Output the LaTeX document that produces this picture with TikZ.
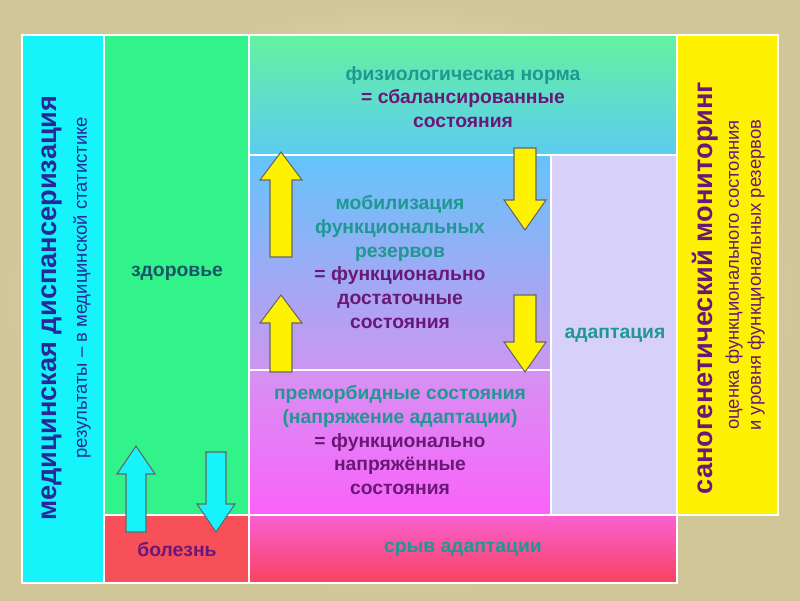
\documentclass[tikz,border=0pt]{standalone}
\usepackage{fontspec}
\setmainfont{Liberation Sans}
\usetikzlibrary{positioning}
\definecolor{tealtxt}{HTML}{1E9890}
\definecolor{plumtxt}{HTML}{6A1878}
\definecolor{navytxt}{HTML}{28289A}
\definecolor{darkteal}{HTML}{1A5468}
\definecolor{aqua}{RGB}{20,244,250}
\newcommand{\fatarrow}[6]{% x, tail y, tip y, head length, half shaft, colour
  \pgfmathsetmacro{\hd}{#3<#2 ? #3+#4 : #3-#4}
  \filldraw[draw=black!60,fill=#6,line width=0.6pt]
    (#1-#5,#2) -- (#1-#5,\hd) -- (#1-2*#5+1,\hd) -- (#1,#3)
    -- (#1+2*#5-1,\hd) -- (#1+#5,\hd) -- (#1+#5,#2) -- cycle;}
\begin{document}
\begin{tikzpicture}[x=0.02cm,y=-0.02cm,
    cell/.style={draw=white,line width=0.8pt},
    txt/.style={align=center,font=\bfseries\fontsize{11}{13.5}\selectfont},
    vtxt/.style={align=center,rotate=90}]
\useasboundingbox (0,0) rectangle (800,600);
\shade[inner color=black!3!yellow!8!white,outer color=brown!40!olive!45!white] (0,0) rectangle (800,600);
% columns
\fill[cell,fill=aqua] (22,35) rectangle (104,583);
\fill[cell,fill={rgb,255:red,50;green,242;blue,138}] (104,35) rectangle (249,515);
\fill[cell,fill={rgb,255:red,248;green,80;blue,88}] (104,515) rectangle (249,583);
\shade[cell,top color={rgb,255:red,100;green,242;blue,160},bottom color={rgb,255:red,92;green,204;blue,240}] (249,35) rectangle (677,155);
\shade[cell,top color={rgb,255:red,100;green,196;blue,250},bottom color={rgb,255:red,204;green,150;blue,240}] (249,155) rectangle (551,370);
\shade[cell,top color={rgb,255:red,214;green,146;blue,242},bottom color={rgb,255:red,250;green,98;blue,250}] (249,370) rectangle (551,515);
\fill[cell,fill={rgb,255:red,214;green,208;blue,250}] (551,155) rectangle (677,515);
\shade[cell,top color={rgb,255:red,250;green,96;blue,210},bottom color={rgb,255:red,248;green,66;blue,96}] (249,515) rectangle (677,583);
\fill[cell,fill=yellow] (677,35) rectangle (778,515);
% texts
\node[vtxt,font=\bfseries\fontsize{15.5}{18}\selectfont,text=navytxt] (disp) at (52,308) {медицинская диспансеризация};
\node[vtxt,font=\fontsize{10.5}{12}\selectfont,text=navytxt] (stat) at (82,288) {результаты -- в медицинской статистике};
\node[txt,text=darkteal] (health) at (177,273) {здоровье};
\node[txt,text=plumtxt] (ill) at (177,549) {болезнь};
\node[txt] (norm) at (463,97) {\textcolor{tealtxt}{физиологическая норма}\\\textcolor{plumtxt}{= сбалансированные}\\\textcolor{plumtxt}{состояния}};
\node[txt] (mobil) at (400,262) {\textcolor{tealtxt}{мобилизация}\\\textcolor{tealtxt}{функциональных}\\\textcolor{tealtxt}{резервов}\\\textcolor{plumtxt}{= функционально}\\\textcolor{plumtxt}{достаточные}\\\textcolor{plumtxt}{состояния}};
\node[txt] (premorb) at (400,440) {\textcolor{tealtxt}{преморбидные состояния}\\\textcolor{tealtxt}{(напряжение адаптации)}\\\textcolor{plumtxt}{= функционально}\\\textcolor{plumtxt}{напряжённые}\\\textcolor{plumtxt}{состояния}};
\node[txt,text=tealtxt] (adapt) at (615,335) {адаптация};
\node[txt,text=tealtxt] (failure) at (463,549) {срыв адаптации};
\node[vtxt,font=\bfseries\fontsize{15.5}{18}\selectfont,text=plumtxt] (sanogen) at (705,288) {саногенетический мониторинг};
\node[vtxt,font=\fontsize{10.5}{12.5}\selectfont,text=plumtxt] (monit) at (745,275) {оценка функционального состояния\\и уровня функциональных резервов};
% arrows
\fatarrow{281}{257}{152}{28}{11}{yellow}
\fatarrow{281}{372}{295}{28}{11}{yellow}
\fatarrow{525}{148}{230}{30}{11}{yellow}
\fatarrow{525}{295}{372}{30}{11}{yellow}
\fatarrow{136}{532}{446}{28}{10}{aqua}
\fatarrow{216}{452}{532}{28}{10}{aqua}
\end{tikzpicture}
\end{document}
